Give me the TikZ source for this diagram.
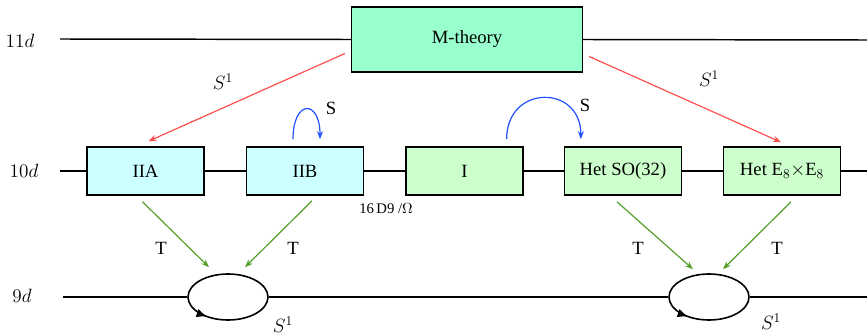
\documentclass[tikz,border=0pt]{standalone}
\usepackage{fontspec}
\setmainfont{Liberation Serif}
\usetikzlibrary{positioning,arrows.meta,shapes.geometric,decorations.markings}
\tikzset{every picture/.style={line width=1.1pt}}

\definecolor{mint}{HTML}{99FFCC}
\definecolor{paleCyan}{HTML}{CCFFFF}
\definecolor{paleGreen}{HTML}{CCFFCC}
\definecolor{arrRed}{HTML}{FF5050}
\definecolor{arrBlue}{HTML}{2050FF}
\definecolor{arrGreen}{HTML}{55A02A}

\begin{document}
\begin{tikzpicture}[x=0.75pt, y=-0.75pt, >={Stealth[length=6pt, width=4.5pt]},
    every node/.style={font=\fontsize{14}{16}\selectfont},
    theory/.style={rectangle, draw, line width=1.2pt, minimum width=87.5pt, minimum height=36pt},
    loopcirc/.style={ellipse, draw, line width=1.2pt, minimum width=60pt, minimum height=34.5pt, inner sep=0pt,
        postaction={decorate, decoration={markings, mark=at position 0.645 with {\arrow{Latex[length=8pt, width=6.5pt]}}}}},
    redarr/.style={->, draw=arrRed, line width=0.9pt},
    bluearr/.style={->, draw=arrBlue, line width=0.9pt},
    greenarr/.style={->, draw=arrGreen, line width=0.9pt}]
        \useasboundingbox (0,0) rectangle (867,335);
        % dimensoes
        \node (d11) at (20,41)  {$11d$};
        \node (d10) at (24,171) {$10d$};
        \node (d9)  at (22,296) {$9d$};
        \coordinate (l11) at (60,39);  \coordinate (r11) at (867,40);
        \coordinate (l10) at (60,171); \coordinate (r10) at (867,171);
        \coordinate (l9)  at (63,297); \coordinate (r9)  at (867,297);
        % teoria M
        \node[theory, fill=mint, minimum width=173pt, minimum height=49pt] (mth) at (467,39.5) {M-theory};
        % cordas em 10d
        \node[theory, fill=paleCyan]  (iia) at (145.5,171) {IIA};
        \node[theory, fill=paleCyan]  (iib) at (305,171)   {IIB};
        \node[theory, fill=paleGreen] (ti)  at (464.5,171) {I};
        \node[theory, fill=paleGreen] (hso) at (623,171)   {Het SO(32)};
        \node[theory, fill=paleGreen] (hee) at (782,171)   {Het E$_8{\times}$E$_8$};
        % circulos em 9d
        \node[loopcirc] (cira) at (228,297) {};
        \node[loopcirc] (cirb) at (709,297) {};
        % linhas horizontais
        \draw (l11) -- (mth.west); \draw (mth.east) -- (r11);
        \draw (l10) -- (iia); \draw (iia) -- (iib); \draw (iib) -- (ti);
        \draw (ti) -- (hso); \draw (hso) -- (hee); \draw (hee) -- (r10);
        \draw (l9) -- (cira); \draw (cira) -- (cirb); \draw (cirb) -- (r9);
        % compactificacao em S^1
        \draw[redarr] ([shift={(-6,14)}]mth.west) -- ([shift={(3,-5)}]iia.north);
        \draw[redarr] ([shift={(6,17)}]mth.east) -- ([shift={(-1,-4)}]hee.north);
        \node (s1a) at (223,82) {$S^1$};
        \node (s1b) at (709,79) {$S^1$};
        % dualidade S
        \draw[bluearr] ([shift={(-12,-7)}]iib.north) .. controls +(0,-40) and +(0,-40) .. ([shift={(15,-7)}]iib.north);
        \draw[bluearr] ([shift={(-17,-7)}]ti.north east) .. controls +(0,-55) and +(0,-55) .. ([shift={(17,-7)}]hso.north west);
        \node (sa) at (331,108) {S};
        \node (sb) at (585,105) {S};
        \node[font=\fontsize{11}{13}\selectfont] (dnine) at (386,209) {16\,D9 /$\Omega$};
        % dualidade T
        \draw[greenarr] ([shift={(-3,6)}]iia.south) -- ([shift={(-19,-6)}]cira.north);
        \draw[greenarr] ([shift={(7,5)}]iib.south) -- ([shift={(17,-6)}]cira.north);
        \draw[greenarr] ([shift={(-6,6)}]hso.south) -- ([shift={(-16,-4)}]cirb.north);
        \draw[greenarr] ([shift={(9,6)}]hee.south) -- ([shift={(14,-4)}]cirb.north);
        \node (ta) at (161,248) {T};
        \node (tb) at (293,248) {T};
        \node (tc) at (638,248) {T};
        \node (td) at (777,248) {T};
        \node (s1c) at (283,325) {$S^1$};
        \node (s1d) at (771,322) {$S^1$};
\end{tikzpicture}
\end{document}
